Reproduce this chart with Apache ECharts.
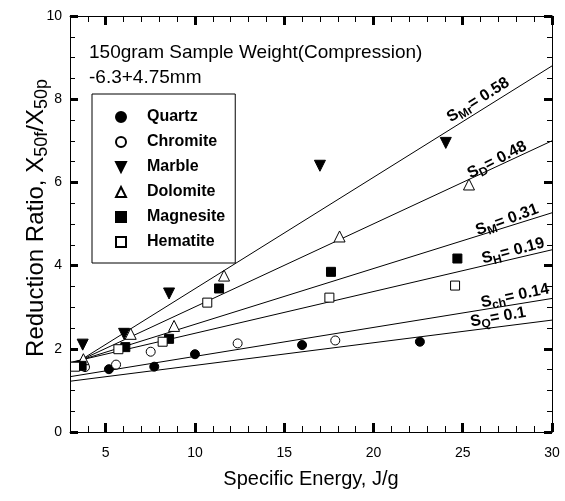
<!DOCTYPE html>
<html>
<head>
<meta charset="utf-8">
<script src="https://cdn.jsdelivr.net/npm/echarts@6/dist/echarts.min.js"></script>
<style>
html, body { margin: 0; padding: 0; background: #fff; }
#chart { width: 565px; height: 501px; }
</style>
</head>
<body>
<div id="chart"></div>
<script>
// measured points, specific energy (J/g) vs reduction ratio
const quartzX = [5.18, 7.72, 10.0, 16.0, 22.6];
const quartzY = [1.51, 1.57, 1.87, 2.09, 2.17];
const chromiteX = [3.84, 5.58, 7.52, 12.39, 17.86];
const chromiteY = [1.56, 1.62, 1.93, 2.13, 2.20];
const marbleX = [3.71, 6.03, 8.55, 17.0, 24.05];
const marbleY = [2.10, 2.36, 3.33, 6.40, 6.95];
const dolomiteX = [3.75, 6.40, 8.83, 11.63, 18.1, 25.35];
const dolomiteY = [1.75, 2.36, 2.55, 3.76, 4.70, 5.95];
const magnesiteX = [3.65, 6.10, 8.55, 11.35, 17.62, 24.7];
const magnesiteY = [1.59, 2.04, 2.24, 3.45, 3.85, 4.17];
const hematiteX = [3.28, 5.71, 8.19, 10.69, 17.53, 24.57];
const hematiteY = [1.57, 1.99, 2.17, 3.11, 3.23, 3.52];

// fitted lines, value at x = 3 and x = 30
const fitX = [3, 30];
const marbleFit = [1.57, 8.80];
const dolomiteFit = [1.61, 7.00];
const magnesiteFit = [1.65, 5.27];
const hematiteFit = [1.67, 4.38];
const chromiteFit = [1.33, 3.21];
const quartzFit = [1.22, 2.69];

// slope labels written along the lines
const slopeSub = ['Mr', 'D', 'M', 'H', 'ch', 'Q'];
const slopeVal = ['0.58', '0.48', '0.31', '0.19', '0.14', '0.1'];
const slopeLabelX = [25.86, 26.92, 27.48, 27.82, 27.93, 26.98];
const slopeLabelY = [7.98, 6.54, 5.10, 4.35, 3.27, 2.76];
const slopeAngle = [32, 27, 20, 15, 12, 10];

const xMajor = [5, 10, 15, 20, 25, 30];

const FONT = "'Liberation Sans', Arial, sans-serif";
const zip = (xs, ys) => xs.map((x, i) => [x, ys[i]]);

const myChart = echarts.init(document.getElementById('chart'));

const minerals = [
  { name: 'Quartz', x: quartzX, y: quartzY, symbol: 'circle', size: 9, fill: '#000' },
  { name: 'Chromite', x: chromiteX, y: chromiteY, symbol: 'circle', size: 9, fill: '#fff' },
  { name: 'Marble', x: marbleX, y: marbleY, symbol: 'path://M0,0L10,0L5,10Z', size: 11, fill: '#000' },
  { name: 'Dolomite', x: dolomiteX, y: dolomiteY, symbol: 'triangle', size: 11, fill: '#fff' },
  { name: 'Magnesite', x: magnesiteX, y: magnesiteY, symbol: 'rect', size: 9, fill: '#000' },
  { name: 'Hematite', x: hematiteX, y: hematiteY, symbol: 'rect', size: 9, fill: '#fff' },
];
const fits = [marbleFit, dolomiteFit, magnesiteFit, hematiteFit, chromiteFit, quartzFit];

const scatterSeries = minerals.map(m => ({
  name: m.name,
  type: 'scatter',
  data: zip(m.x, m.y),
  symbol: m.symbol,
  symbolSize: m.size,
  itemStyle: { color: m.fill, borderColor: '#000', borderWidth: 1, opacity: 1 },
  z: 5,
  silent: true,
}));

const lineSeries = fits.map((f, i) => ({
  name: 'fit' + i,
  type: 'line',
  data: zip(fitX, f),
  showSymbol: false,
  symbol: 'none',
  lineStyle: { color: '#000', width: 1 },
  silent: true,
  z: 3,
  markPoint: {
    symbol: 'circle',
    symbolSize: 0,
    silent: true,
    itemStyle: { color: 'transparent' },
    label: {
      show: true,
      position: 'inside',
      rotate: slopeAngle[i],
      formatter: '{b|S}{s|' + slopeSub[i] + '}{b|= ' + slopeVal[i] + '}',
      rich: {
        b: { fontFamily: FONT, fontSize: 16, fontWeight: 'bold', color: '#000', lineHeight: 16 },
        s: { fontFamily: FONT, fontSize: 12, fontWeight: 'bold', color: '#000', lineHeight: 12, padding: [9, 0, 0, 0] },
      },
    },
    data: [{ coord: [slopeLabelX[i], slopeLabelY[i]] }],
  },
}));

// axis pieces
const axLine = () => ({ show: true, onZero: false, lineStyle: { color: '#000', width: 1 } });
const noLine = () => ({ show: false, onZero: false });
const noTick = () => ({ show: false });
const tick = (len, w, extra) => Object.assign({ show: true, inside: true, length: len, lineStyle: { color: '#000', width: w } }, extra || {});
const xAxisBase = (pos, grid) => ({ type: 'value', gridIndex: grid, position: pos, min: 3, max: 30, splitLine: { show: false } });
const yAxisBase = (pos, grid) => ({ type: 'value', gridIndex: grid, position: pos, min: 0, max: 10, interval: 2, splitLine: { show: false }, minorSplitLine: { show: false } });

const plotRect = { left: 70, right: 13, top: 16, bottom: 69 };

const option = {
  animation: false,
  title: {
    text: '150gram Sample Weight(Compression)\n-6.3+4.75mm',
    left: 89,
    top: 40,
    padding: 0,
    textStyle: { fontFamily: FONT, fontSize: 19, fontWeight: 'normal', color: '#000', lineHeight: 25 },
  },
  legend: {
    data: minerals.map(m => m.name),
    orient: 'vertical',
    left: 92,
    top: 94,
    padding: [15, 10, 13, 23],
    itemWidth: 10,
    itemHeight: 10,
    itemGap: 9,
    borderColor: '#000',
    borderWidth: 1,
    borderRadius: 0,
    selectedMode: false,
    textStyle: { fontFamily: FONT, fontSize: 16, fontWeight: 'bold', color: '#000', lineHeight: 16, padding: [0, 0, 0, 16] },
  },
  // axis titles as plain text
  graphic: [
    {
      type: 'text', x: 311, y: 479, silent: true,
      style: { text: 'Specific Energy, J/g', font: '20px ' + FONT, fill: '#000', align: 'center', verticalAlign: 'middle' },
    },
    {
      type: 'text', x: 36, y: 218, rotation: Math.PI / 2, silent: true,
      style: {
        text: 'Reduction Ratio, X{s|50f}/X{s|50p}', font: '24px ' + FONT, fill: '#000',
        align: 'center', verticalAlign: 'middle', lineHeight: 26,
        rich: { s: { font: '18px ' + FONT, fill: '#000', lineHeight: 18, padding: [12, 0, 0, 0] } },
      },
    },
  ],
  // grid 0 carries the data, lines and ticks; grid 1 (same box) only the tick labels
  grid: [Object.assign({}, plotRect), Object.assign({}, plotRect)],
  xAxis: [
    Object.assign(xAxisBase('bottom', 0), {
      axisLine: axLine(),
      axisTick: tick(9, 3, { customValues: xMajor }),
      axisLabel: { show: false },
    }),
    Object.assign(xAxisBase('top', 0), {
      axisLine: axLine(),
      axisTick: tick(9, 3, { customValues: xMajor }),
      axisLabel: { show: false },
    }),
    Object.assign(xAxisBase('top', 0), {
      interval: 1,
      axisLine: noLine(),
      axisTick: tick(6, 1),
      axisLabel: { show: false },
    }),
    Object.assign(xAxisBase('bottom', 0), {
      interval: 1,
      axisLine: noLine(),
      axisTick: tick(6, 1),
      axisLabel: { show: false },
    }),
    Object.assign(xAxisBase('bottom', 1), {
      axisLine: noLine(),
      axisTick: noTick(),
      axisLabel: { customValues: xMajor, fontFamily: FONT, fontSize: 14, color: '#000', margin: 14 },
    }),
  ],
  yAxis: [
    Object.assign(yAxisBase('left', 0), {
      axisLine: axLine(),
      axisTick: tick(8, 3),
      minorTick: tick(5, 1, { splitNumber: 4 }),
      axisLabel: { show: false },
    }),
    Object.assign(yAxisBase('right', 0), {
      axisLine: axLine(),
      axisTick: tick(8, 3),
      minorTick: tick(5, 1, { splitNumber: 4 }),
      axisLabel: { show: false },
    }),
    Object.assign(yAxisBase('left', 1), {
      axisLine: noLine(),
      axisTick: noTick(),
      axisLabel: { fontFamily: FONT, fontSize: 14, color: '#000', margin: 8 },
    }),
  ],
  series: [...lineSeries, ...scatterSeries],
};

myChart.setOption(option);
</script>
</body>
</html>
